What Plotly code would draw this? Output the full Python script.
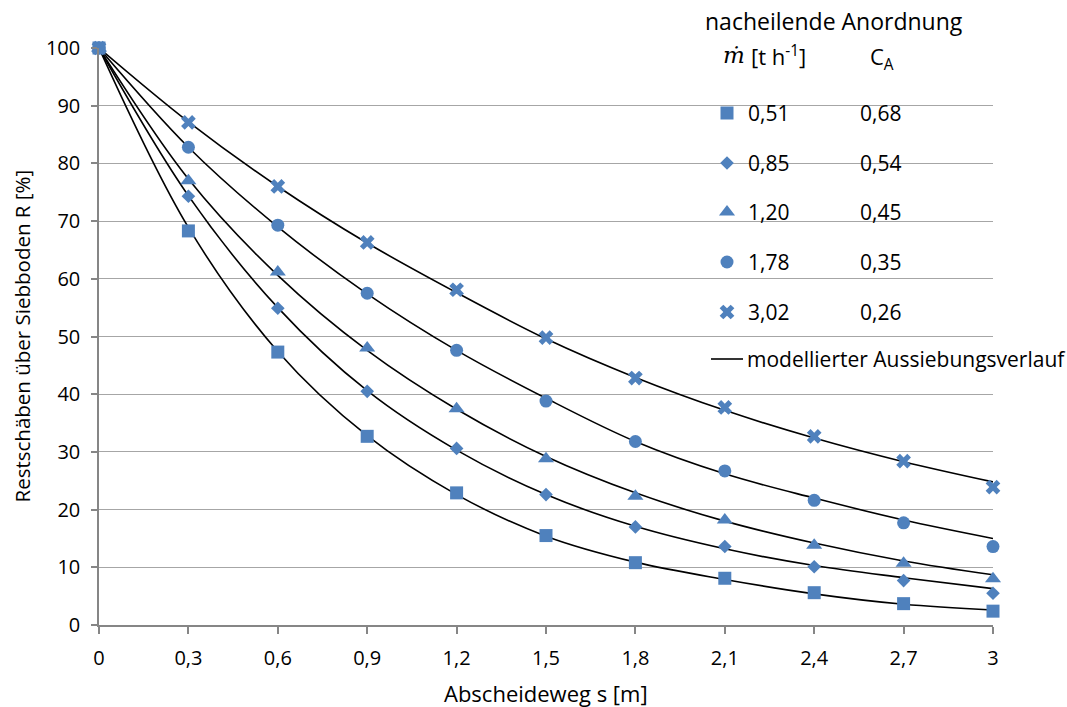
import plotly.graph_objects as go

# ---------------- data ----------------
s_vals = [0, 0.3, 0.6, 0.9, 1.2, 1.5, 1.8, 2.1, 2.4, 2.7, 3.0]
tick_text = ["0", "0,3", "0,6", "0,9", "1,2", "1,5", "1,8", "2,1", "2,4", "2,7", "3"]
y_ticks = [0, 10, 20, 30, 40, 50, 60, 70, 80, 90, 100]

m_dot = ["0,51", "0,85", "1,20", "1,78", "3,02"]
c_a = ["0,68", "0,54", "0,45", "0,35", "0,26"]
symbols = ["square", "diamond", "triangle-up", "circle", "x"]
sizes = [13, 10.5, 14, 13, 13]

# measured points
r_051 = [100, 68.3, 47.3, 32.7, 22.9, 15.5, 10.8, 8.1, 5.6, 3.7, 2.4]
r_085 = [100, 74.3, 54.9, 40.5, 30.6, 22.6, 17.0, 13.6, 10.1, 7.7, 5.5]
r_120 = [100, 77.0, 61.2, 48.0, 37.5, 28.8, 22.3, 18.2, 13.8, 10.7, 8.0]
r_178 = [100, 82.8, 69.3, 57.5, 47.6, 38.8, 31.8, 26.7, 21.6, 17.7, 13.6]
r_302 = [100, 87.1, 76.0, 66.3, 58.1, 49.8, 42.8, 37.7, 32.7, 28.4, 23.9]

# modelled curves
mod_051 = [100, 68.9, 47.4, 32.8, 22.6, 15.4, 10.9, 7.9, 5.4, 3.6, 2.6]
mod_085 = [100, 74.4, 55.0, 40.6, 30.3, 22.6, 17.1, 13.2, 10.3, 8.2, 6.3]
mod_120 = [100, 77.3, 60.6, 47.6, 37.4, 29.2, 22.9, 18.0, 14.2, 11.1, 8.7]
mod_178 = [100, 82.8, 69.0, 57.4, 47.6, 39.3, 31.8, 26.2, 22.0, 18.2, 15.0]
mod_302 = [100, 87.2, 76.0, 66.2, 57.6, 49.6, 42.9, 37.2, 32.4, 28.3, 24.8]

measured = [r_051, r_085, r_120, r_178, r_302]
models = [mod_051, mod_085, mod_120, mod_178, mod_302]

BLUE = "#4f81bd"
FONT = "Open Sans"

# ---------------- layout geometry (pixels) ----------------
W, H = 1067, 707
PL, PR, PT, PB = 99, 993, 48, 625
X_RANGE = [0, 3]
Y_RANGE = [0, 100]


def px(x):
    return (x - PL) / (PR - PL)


def py(y):
    return (PB - y) / (PB - PT)


def dx(x):  # pixel -> data x (for legend symbols)
    return X_RANGE[0] + px(x) * (X_RANGE[1] - X_RANGE[0])


def dy(y):  # pixel -> data y (for legend symbols)
    return Y_RANGE[0] + py(y) * (Y_RANGE[1] - Y_RANGE[0])


fig = go.Figure()

# model lines
for i, mod in enumerate(models):
    fig.add_trace(go.Scatter(
        x=s_vals, y=mod, mode="lines",
        line=dict(color="black", width=1.6, shape="spline", smoothing=1.0),
        showlegend=False, hoverinfo="skip", cliponaxis=False))

# markers (square drawn last so it is on top at (0,100))
for i in reversed(range(5)):
    fig.add_trace(go.Scatter(
        x=s_vals, y=measured[i], mode="markers",
        marker=dict(symbol=symbols[i], size=sizes[i], color=BLUE, opacity=1,
                    line=dict(width=0)),
        showlegend=False, cliponaxis=False))

# custom legend symbols (one trace per series)
row_y = [113, 163, 212, 262, 312]
for i in range(5):
    fig.add_trace(go.Scatter(
        x=[dx(727)], y=[dy(row_y[i])], mode="markers",
        marker=dict(symbol=symbols[i], size=sizes[i], color=BLUE, opacity=1,
                    line=dict(width=0)),
        showlegend=False, cliponaxis=False, hoverinfo="skip"))
fig.add_trace(go.Scatter(
    x=[dx(711), dx(743)], y=[dy(359), dy(359)], mode="lines",
    line=dict(color="black", width=1.6),
    showlegend=False, cliponaxis=False, hoverinfo="skip"))

annotations = []
lab_font = dict(family=FONT, size=21, color="black")
for i in range(5):
    annotations.append(dict(x=px(746), y=py(row_y[i]), xref="paper", yref="paper",
                            text=m_dot[i], showarrow=False, xanchor="left", yanchor="middle",
                            font=lab_font))
    annotations.append(dict(x=px(858), y=py(row_y[i]), xref="paper", yref="paper",
                            text=c_a[i], showarrow=False, xanchor="left", yanchor="middle",
                            font=lab_font))

annotations += [
    dict(x=px(703), y=py(21), xref="paper", yref="paper", text="nacheilende Anordnung",
         showarrow=False, xanchor="left", yanchor="middle", font=dict(family=FONT, size=23, color="black")),
    dict(x=px(721), y=py(55), xref="paper", yref="paper", text="<i>ṁ</i>",
         showarrow=False, xanchor="left", yanchor="middle",
         font=dict(family="DejaVu Serif", size=23, color="black")),
    dict(x=px(749), y=py(55), xref="paper", yref="paper", text="[t h<sup>-1</sup>]",
         showarrow=False, xanchor="left", yanchor="middle", font=dict(family=FONT, size=22, color="black")),
    dict(x=px(868), y=py(58), xref="paper", yref="paper", text="C<sub>A</sub>",
         showarrow=False, xanchor="left", yanchor="middle", font=dict(family=FONT, size=22, color="black")),
    dict(x=px(745), y=py(359), xref="paper", yref="paper", text="modellierter Aussiebungsverlauf",
         showarrow=False, xanchor="left", yanchor="middle", font=lab_font),
    dict(x=0.5, y=py(693), xref="paper", yref="paper", text="Abscheideweg s [m]",
         showarrow=False, xanchor="center", yanchor="middle", font=dict(family=FONT, size=22, color="black")),
    dict(x=px(21), y=0.5, xref="paper", yref="paper", text="Restschäben über Siebboden R [%]",
         textangle=-90, showarrow=False, xanchor="center", yanchor="middle",
         font=dict(family=FONT, size=20.5, color="black")),
]

shapes = [
    dict(type="rect", xref="paper", yref="paper", x0=px(694), x1=1.2, y0=py(376), y1=1.2,
         fillcolor="white", line=dict(width=0), layer="between"),
]

fig.update_layout(
    width=W, height=H,
    margin=dict(l=PL, r=W - PR, t=PT, b=H - PB, autoexpand=False),
    paper_bgcolor="white", plot_bgcolor="white",
    showlegend=False,
    font=dict(family=FONT, size=20, color="black"),
    xaxis=dict(range=X_RANGE, tickvals=s_vals, ticktext=tick_text, showgrid=False,
               showline=True, linecolor="#868686", linewidth=1.5,
               ticks="outside", ticklen=7, tickcolor="#868686", tickwidth=1.5,
               zeroline=False, automargin=False, ticklabelstandoff=7,
               tickfont=dict(family=FONT, size=20, color="black")),
    yaxis=dict(range=Y_RANGE, tickvals=y_ticks, showgrid=True, gridcolor="#a6a6a6", gridwidth=1.3,
               showline=True, linecolor="#868686", linewidth=1.5,
               ticks="outside", ticklen=6, tickcolor="#868686", tickwidth=1.5,
               zeroline=False, automargin=False, ticklabelstandoff=7,
               tickfont=dict(family=FONT, size=20, color="black")),
    annotations=annotations,
    shapes=shapes,
)

fig.write_html("out.html", post_script="document.body.style.margin='0px';",
               config={"displayModeBar": False})
